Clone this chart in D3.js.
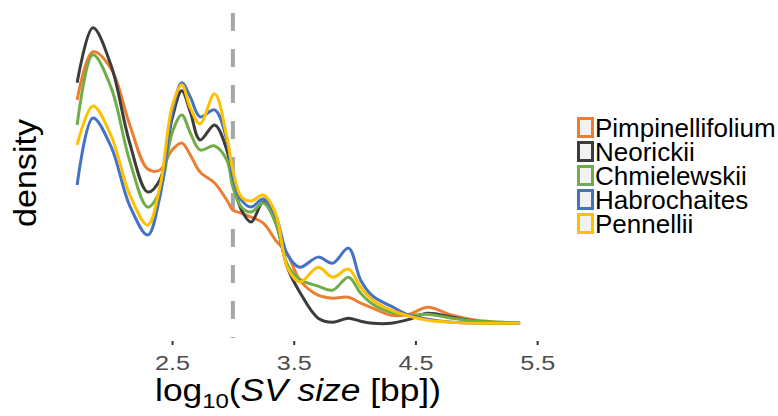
<!DOCTYPE html>
<html>
<head>
<meta charset="utf-8">
<script src="https://cdn.jsdelivr.net/npm/d3@7"></script>
<style>
  body { margin: 0; background: #fff; }
  svg text { font-family: "Liberation Sans", Arial, sans-serif; }
</style>
</head>
<body>
<svg id="chart" width="778" height="416"></svg>
<script>
// log10 SV size grid and density per group
var sizes = [1.72, 1.85, 2.0, 2.15, 2.3, 2.4, 2.5, 2.58, 2.65, 2.73, 2.85, 2.95, 3.0, 3.07, 3.15,
             3.25, 3.35, 3.45, 3.55, 3.7, 3.82, 3.95, 4.05, 4.15, 4.3, 4.45, 4.6, 4.8, 5.0, 5.2, 5.36];

var pimpinellifolium = [0.892, 1.084, 1.016, 0.796, 0.616, 0.612, 0.692, 0.72, 0.672, 0.604, 0.56, 0.492, 0.452, 0.44, 0.424,
                        0.4, 0.332, 0.276, 0.172, 0.112, 0.1, 0.104, 0.08, 0.06, 0.032, 0.036, 0.064, 0.032, 0.012, 0.004, 0];
var neorickii        = [0.96, 1.18, 1.028, 0.724, 0.524, 0.572, 0.816, 0.928, 0.844, 0.732, 0.792, 0.692, 0.572, 0.452, 0.404,
                        0.484, 0.404, 0.22, 0.124, 0.02, 0.004, 0.02, 0.008, 0, 0, 0.016, 0.04, 0.024, 0.008, 0, 0];
var chmielewskii     = [0.792, 1.072, 0.94, 0.652, 0.464, 0.528, 0.76, 0.832, 0.76, 0.692, 0.708, 0.652, 0.544, 0.464, 0.444,
                        0.48, 0.404, 0.232, 0.176, 0.148, 0.132, 0.184, 0.12, 0.076, 0.044, 0.032, 0.036, 0.02, 0.008, 0.004, 0];
var habrochaites     = [0.552, 0.82, 0.704, 0.472, 0.352, 0.504, 0.832, 0.96, 0.904, 0.824, 0.852, 0.732, 0.584, 0.492, 0.464,
                        0.496, 0.432, 0.272, 0.224, 0.264, 0.24, 0.3, 0.172, 0.108, 0.068, 0.032, 0.016, 0.004, 0, 0, 0];
var pennellii        = [0.712, 0.868, 0.748, 0.516, 0.392, 0.544, 0.864, 0.952, 0.86, 0.796, 0.916, 0.744, 0.612, 0.504, 0.488,
                        0.512, 0.44, 0.22, 0.164, 0.224, 0.184, 0.216, 0.144, 0.092, 0.052, 0.028, 0.012, 0.004, 0, 0, 0];

var groups = ["Pimpinellifolium", "Neorickii", "Chmielewskii", "Habrochaites", "Pennellii"];
var groupValues = [pimpinellifolium, neorickii, chmielewskii, habrochaites, pennellii];
var groupColors = ["#ED7D31", "#3C3C3C", "#70AD47", "#4472C4", "#FFC000"];
var xTicks = [2.5, 3.5, 4.5, 5.5];
var cutoff = 3.0;

var svg = d3.select("#chart");

var x = d3.scaleLinear().domain([1.53, 5.54]).range([54, 542]);
var y = d3.scaleLinear().domain([-0.059, 1.239]).range([338, 13]);

var line = d3.line()
  .x(function(d){ return x(d.s); })
  .y(function(d){ return y(d.v); })
  .curve(d3.curveCatmullRom.alpha(0.5));

// reference line
svg.append("line")
  .attr("x1", x(cutoff)).attr("x2", x(cutoff))
  .attr("y1", y.range()[1]).attr("y2", y.range()[0])
  .attr("stroke", "#a6a6a6")
  .attr("stroke-width", 4)
  .attr("stroke-dasharray", "18,18");

groups.forEach(function(g, i){
  var pts = sizes.map(function(s, j){ return {s: s, v: groupValues[i][j]}; });
  svg.append("path")
    .datum(pts)
    .attr("d", line)
    .attr("fill", "none")
    .attr("stroke", groupColors[i])
    .attr("stroke-width", 3);
});

// x axis
var xAxis = svg.append("g")
  .attr("transform", "translate(0," + 341 + ")")
  .call(d3.axisBottom(x).tickValues(xTicks).tickSize(4).tickPadding(10).tickFormat(d3.format(".1f")));
xAxis.select(".domain").remove();
xAxis.selectAll(".tick line").attr("stroke", "#333").attr("stroke-width", 2);
xAxis.selectAll(".tick text")
  .attr("fill", "#4d4d4d")
  .attr("transform", "scale(1.2,1)")
  .style("font-size", "21px")
  .style("font-family", "'Liberation Sans', Arial, sans-serif");

// axis titles
var xt = svg.append("text")
  .attr("transform", "translate(298,401) scale(1.14,1)")
  .attr("text-anchor", "middle")
  .style("font-size", "31px")
  .attr("fill", "#000");
xt.append("tspan").text("log");
xt.append("tspan").attr("dy", 7).style("font-size", "21px").text("10");
xt.append("tspan").attr("dy", -7).text("(");
xt.append("tspan").style("font-style", "italic").text("SV size");
xt.append("tspan").text(" [bp])");

svg.append("text")
  .attr("transform", "translate(36,173) rotate(-90) scale(1.1,1)")
  .attr("text-anchor", "middle")
  .style("font-size", "31px")
  .attr("fill", "#000")
  .text("density");

// legend
var legend = svg.append("g").attr("transform", "translate(577,117)");
groups.forEach(function(g, i){
  var row = legend.append("g").attr("transform", "translate(0," + (i * 24) + ")");
  row.append("rect")
    .attr("x", 1.5).attr("y", 1.5)
    .attr("width", 14).attr("height", 18)
    .attr("fill", "#f2f2f2")
    .attr("stroke", groupColors[i])
    .attr("stroke-width", 3);
  row.append("text")
    .attr("x", 18).attr("y", 11)
    .attr("dy", "0.35em")
    .style("font-size", "26px")
    .attr("fill", "#000")
    .text(g);
});
</script>
</body>
</html>
